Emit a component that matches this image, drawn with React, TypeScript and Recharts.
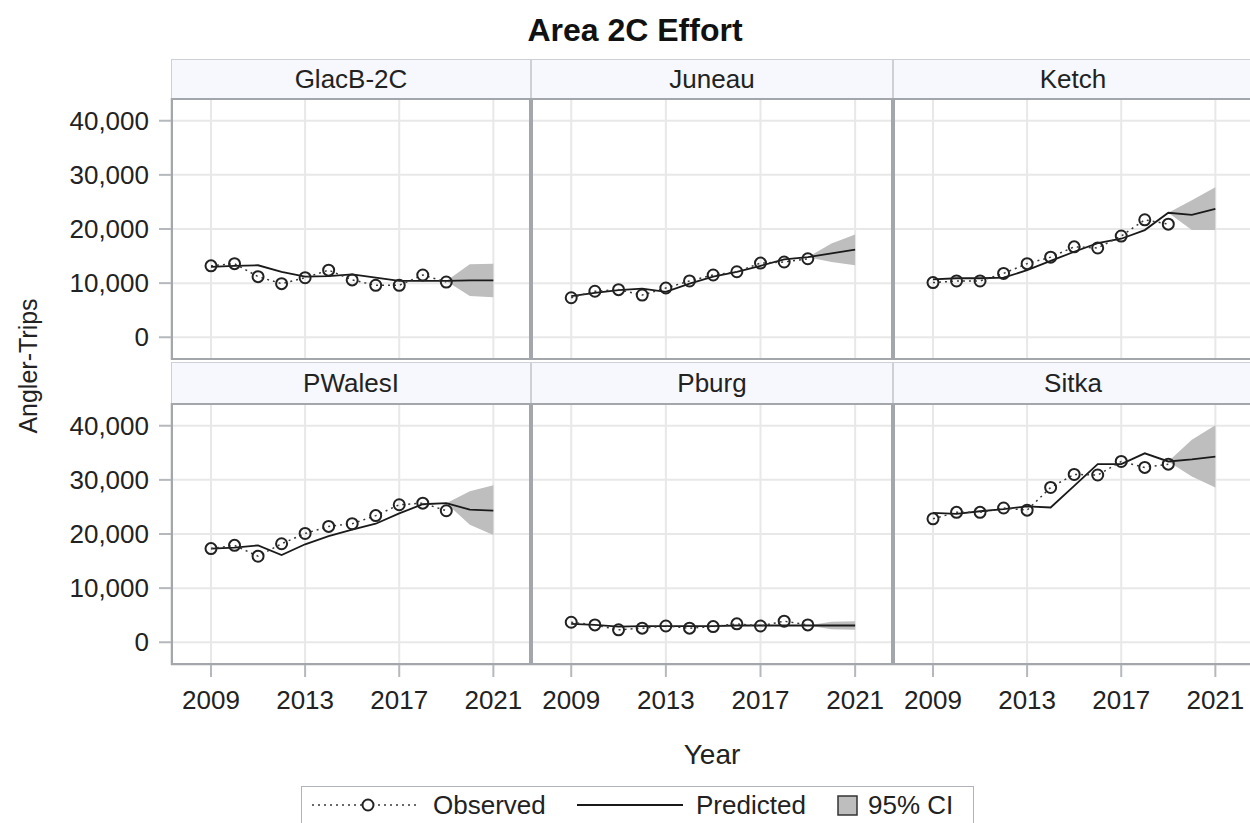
import { Area, CartesianGrid, ComposedChart, Line, XAxis, YAxis } from "recharts";

const YEARS = [2009, 2010, 2011, 2012, 2013, 2014, 2015, 2016, 2017, 2018, 2019, 2020, 2021];
const CI_YEARS = [2019, 2020, 2021];
const X_TICKS = [2009, 2013, 2017, 2021];
const Y_TICKS = [0, 10000, 20000, 30000, 40000];
const PANEL_NAMES = ["GlacB-2C", "Juneau", "Ketch", "PWalesI", "Pburg", "Sitka"];

// observed 2009-2019, predicted 2009-2021, CI 2019-2021
const glacObs = [13200, 13600, 11200, 9900, 11000, 12400, 10600, 9600, 9600, 11500, 10200];
const glacPred = [13000, 13200, 13300, 12100, 11200, 11300, 11600, 11000, 10400, 10400, 10400, 10500, 10500];
const glacLo = [10400, 7600, 7400];
const glacHi = [10400, 13500, 13600];

const juneauObs = [7300, 8500, 8800, 7800, 9100, 10400, 11500, 12100, 13700, 13900, 14500];
const juneauPred = [7600, 8200, 8700, 9000, 8400, 9900, 11200, 12100, 13200, 14400, 14800, 15500, 16200];
const juneauLo = [14800, 13900, 13300];
const juneauHi = [14800, 17300, 19000];

const ketchObs = [10100, 10400, 10400, 11800, 13600, 14800, 16700, 16500, 18700, 21700, 20900];
const ketchPred = [10700, 10900, 10900, 11000, 12400, 14100, 15800, 17400, 18200, 19800, 23000, 22600, 23700];
const ketchLo = [23000, 19800, 19800];
const ketchHi = [23000, 25300, 27700];

const pwalesObs = [17300, 17900, 15900, 18200, 20100, 21400, 21900, 23400, 25400, 25700, 24300];
const pwalesPred = [17300, 17500, 17900, 16100, 18100, 19600, 20800, 21900, 23800, 25500, 25700, 24500, 24300];
const pwalesLo = [25700, 21700, 19800];
const pwalesHi = [25700, 27900, 29000];

const pburgObs = [3700, 3200, 2300, 2600, 3000, 2600, 2900, 3400, 3000, 3900, 3200];
const pburgPred = [3400, 3200, 2900, 3000, 3000, 3000, 3000, 3100, 3100, 3100, 3100, 3100, 3100];
const pburgLo = [3100, 2400, 2300];
const pburgHi = [3100, 3800, 3900];

const sitkaObs = [22800, 24000, 24000, 24800, 24400, 28600, 31000, 30900, 33400, 32300, 32900];
const sitkaPred = [23900, 23700, 24200, 24600, 25100, 24900, 28900, 32900, 32900, 34900, 33400, 33800, 34300];
const sitkaLo = [33400, 30600, 28600];
const sitkaHi = [33400, 37400, 40100];

const SERIES = [
  [glacObs, glacPred, glacLo, glacHi],
  [juneauObs, juneauPred, juneauLo, juneauHi],
  [ketchObs, ketchPred, ketchLo, ketchHi],
  [pwalesObs, pwalesPred, pwalesLo, pwalesHi],
  [pburgObs, pburgPred, pburgLo, pburgHi],
  [sitkaObs, sitkaPred, sitkaLo, sitkaHi],
];

const FONT = "'Liberation Sans', Arial, sans-serif";
const COLS = [
  { left: 171, width: 360 },
  { left: 531, width: 362 },
  { left: 893, width: 360 },
];
const ROWS = [
  { headTop: 59, top: 98 },
  { headTop: 362, top: 403 },
];
const PLOT_H = 262;
const Y_W = 111;
const X_H = 60;
const X_DOMAIN = [2007.3, 2022.6];
const Y_DOMAIN = [-4200, 44200];

function buildRows(obs: number[], pred: number[], lo: number[], hi: number[]) {
  return YEARS.map((year, i) => {
    const k = CI_YEARS.indexOf(year);
    return {
      year,
      obs: i < obs.length ? obs[i] : null,
      pred: pred[i],
      ci: k >= 0 ? [lo[k], hi[k]] : null,
    };
  });
}

function Panel({ idx }: { idx: number }) {
  const col = idx % 3;
  const row = Math.floor(idx / 3);
  const [obs, pred, lo, hi] = SERIES[idx];
  const data = buildRows(obs, pred, lo, hi);
  const c = COLS[col];
  const r = ROWS[row];
  const showY = col === 0;
  const showX = row === 1;
  const w = c.width + (showY ? Y_W : 0);
  const h = PLOT_H + (showX ? X_H : 0);

  return (
    <>
      <div
        style={{
          position: "absolute",
          left: c.left,
          top: r.headTop,
          width: c.width,
          height: r.top - r.headTop,
          boxSizing: "border-box",
          background: "#F6F8FD",
          border: "1px solid #CDD0D6",
          borderBottom: "none",
          fontFamily: FONT,
          fontSize: 26,
          color: "#222",
          textAlign: "center",
          lineHeight: `${r.top - r.headTop}px`,
        }}
      >
        {PANEL_NAMES[idx]}
      </div>
      <div style={{ position: "absolute", left: c.left - (showY ? Y_W : 0), top: r.top }}>
        <ComposedChart width={w} height={h} data={data} margin={{ top: 0, right: 0, bottom: 0, left: 0 }}>
          <CartesianGrid stroke="#E8E8E8" strokeWidth={2} />
          <XAxis
            dataKey="year"
            type="number"
            domain={X_DOMAIN}
            ticks={X_TICKS}
            allowDataOverflow
            hide={!showX}
            height={X_H}
            axisLine={false}
            tickSize={12}
            tickMargin={14}
            tickLine={{ stroke: "#B5B8BC", strokeWidth: 2 }}
            tick={{ fill: "#222", fontSize: 26, fontFamily: FONT }}
          />
          <YAxis
            type="number"
            domain={Y_DOMAIN}
            ticks={Y_TICKS}
            allowDataOverflow
            hide={!showY}
            width={Y_W}
            axisLine={false}
            tickSize={12}
            tickMargin={10}
            tickLine={{ stroke: "#B5B8BC", strokeWidth: 2 }}
            tick={{ fill: "#222", fontSize: 26, fontFamily: FONT }}
            tickFormatter={(v: number) => v.toLocaleString("en-US")}
          />
          <Area dataKey="ci" stroke="none" fill="#BEBEBE" fillOpacity={1} isAnimationActive={false} connectNulls={false} />
          <Line dataKey="pred" stroke="#1A1A1A" strokeWidth={1.8} dot={false} isAnimationActive={false} />
          <Line
            dataKey="obs"
            stroke="#3A3A3A"
            strokeWidth={1.5}
            strokeDasharray="2 4"
            dot={{ r: 5.5, stroke: "#222", strokeWidth: 2, fill: "none", strokeDasharray: "none" }}
            isAnimationActive={false}
          />
        </ComposedChart>
      </div>
      <div
        style={{
          position: "absolute",
          left: c.left,
          top: r.top,
          width: c.width,
          height: PLOT_H,
          boxSizing: "border-box",
          border: "2px solid #A3A7AC",
          pointerEvents: "none",
        }}
      />
    </>
  );
}

export default function App() {
  return (
    <div
      style={{
        position: "absolute",
        left: 0,
        top: 0,
        width: 1250,
        height: 823,
        overflow: "hidden",
        background: "#fff",
        fontFamily: FONT,
      }}
    >
      <div
        style={{
          position: "absolute",
          left: 0,
          top: 10,
          width: 1270,
          textAlign: "center",
          fontWeight: "bold",
          fontSize: 32,
          lineHeight: "40px",
          color: "#111",
        }}
      >
        Area 2C Effort
      </div>
      {PANEL_NAMES.map((_, i) => (
        <Panel key={i} idx={i} />
      ))}
      <div
        style={{
          position: "absolute",
          left: 28,
          top: 366,
          transform: "translate(-50%, -50%) rotate(-90deg)",
          whiteSpace: "nowrap",
          fontSize: 25,
          color: "#222",
        }}
      >
        Angler-Trips
      </div>
      <div
        style={{
          position: "absolute",
          left: 0,
          top: 736,
          width: 1424,
          textAlign: "center",
          fontSize: 28,
          lineHeight: "38px",
          color: "#222",
        }}
      >
        Year
      </div>
      <div
        style={{
          position: "absolute",
          left: 301,
          top: 786,
          width: 673,
          height: 38,
          boxSizing: "border-box",
          border: "1px solid #B0B3B8",
          fontSize: 26,
          color: "#222",
        }}
      >
        <svg style={{ position: "absolute", left: 10, top: 7 }} width={106} height={22}>
          <line x1={0} y1={11} x2={106} y2={11} stroke="#3A3A3A" strokeWidth={1.5} strokeDasharray="2 4" />
          <circle cx={56} cy={11} r={5.5} stroke="#222" strokeWidth={2} fill="#fff" />
        </svg>
        <span style={{ position: "absolute", left: 131, top: 3, lineHeight: "30px" }}>Observed</span>
        <svg style={{ position: "absolute", left: 275, top: 7 }} width={106} height={22}>
          <line x1={0} y1={11} x2={106} y2={11} stroke="#1A1A1A" strokeWidth={1.8} />
        </svg>
        <span style={{ position: "absolute", left: 394, top: 3, lineHeight: "30px" }}>Predicted</span>
        <svg style={{ position: "absolute", left: 535, top: 8 }} width={22} height={22}>
          <rect x={1} y={1} width={19} height={19} fill="#BEBEBE" stroke="#333" strokeWidth={1.5} />
        </svg>
        <span style={{ position: "absolute", left: 566, top: 3, lineHeight: "30px" }}>95% CI</span>
      </div>
    </div>
  );
}
